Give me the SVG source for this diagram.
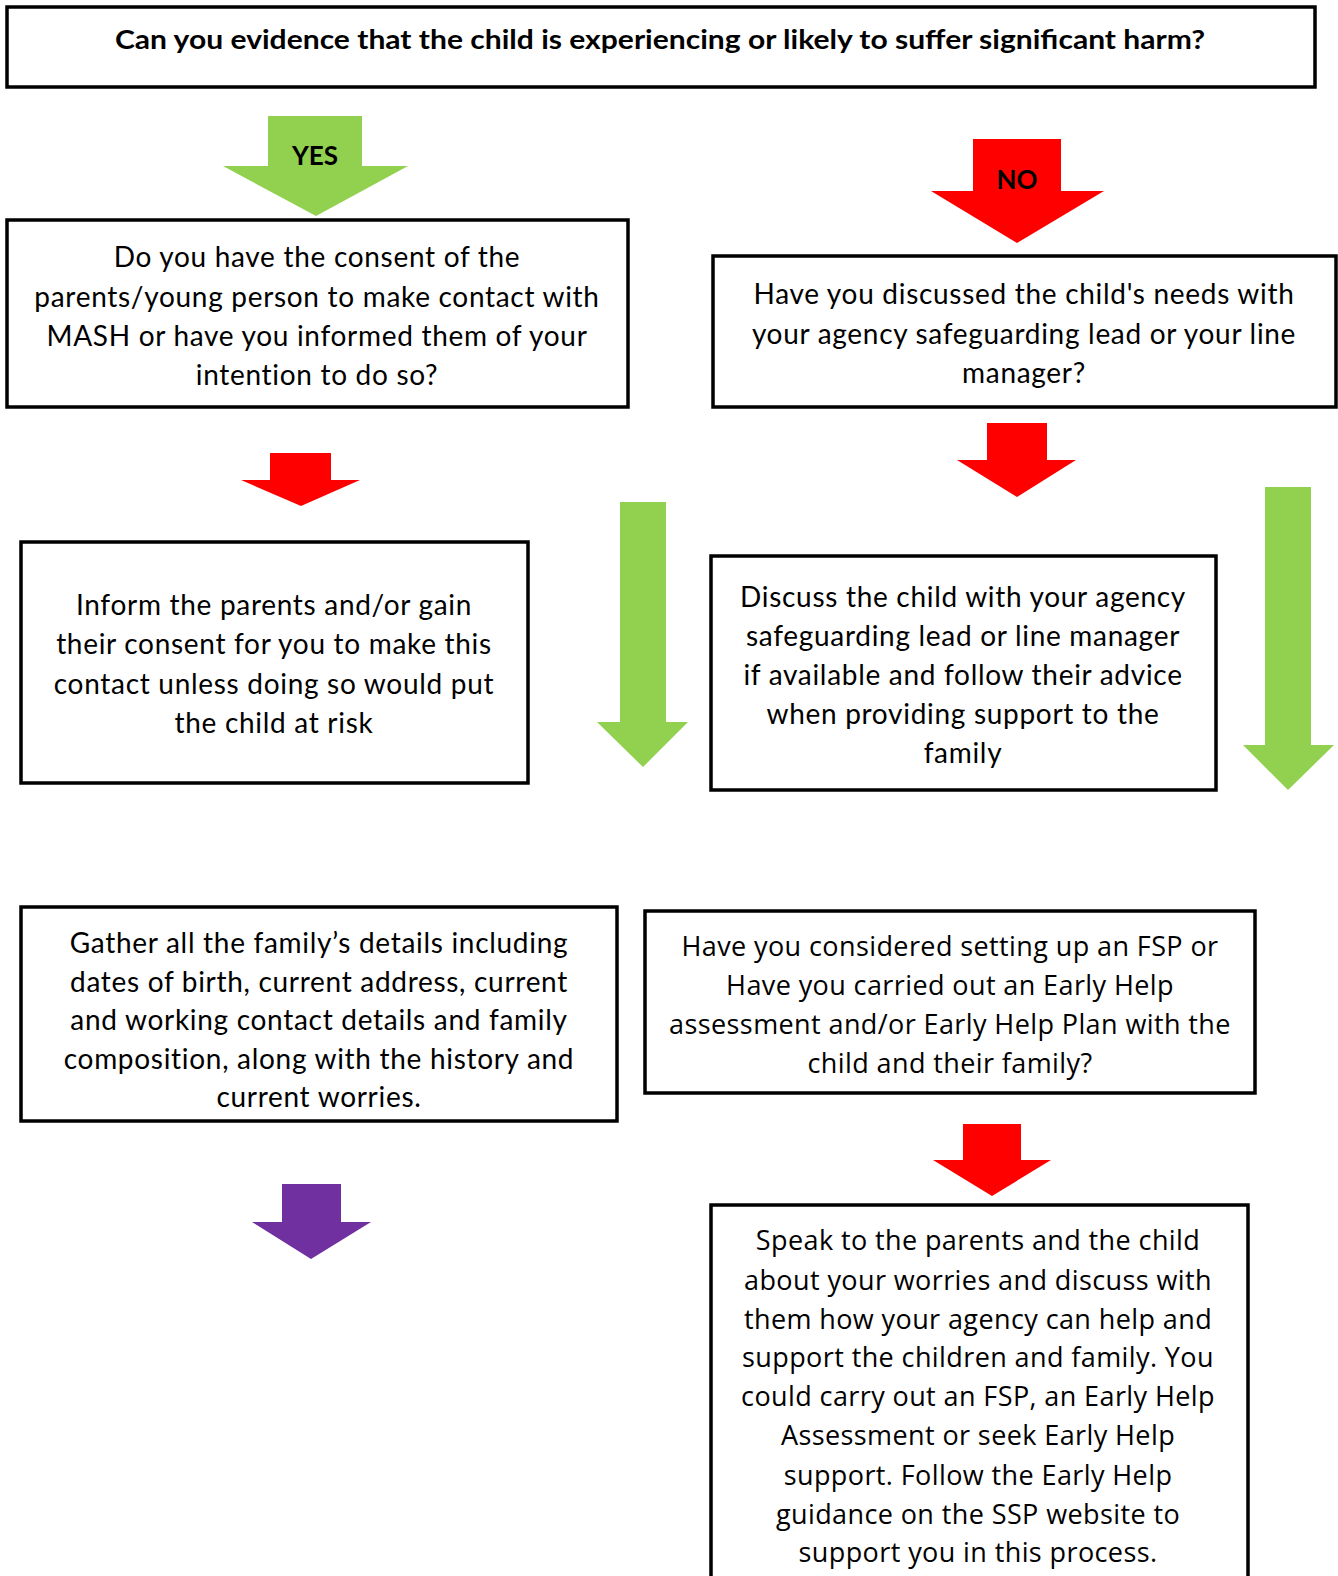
<svg xmlns="http://www.w3.org/2000/svg" width="1338" height="1576" viewBox="0 0 1338 1576">
<style>
.box{fill:#fff;stroke:#000;stroke-width:3.5}
.t{font-family:Lato,"Liberation Sans",sans-serif;font-size:28px;letter-spacing:0.7px;fill:#000;text-anchor:middle}
.t2{font-family:"Open Sans","Liberation Sans",sans-serif;font-size:27px;letter-spacing:0.4px;fill:#000;text-anchor:middle}
.b{font-family:Lato,"Liberation Sans",sans-serif;font-weight:bold;font-size:26px;fill:#000;text-anchor:middle}
.g{fill:#92D050}.r{fill:#FF0000}.p{fill:#7030A0}
</style>
<g id="connectors">
<polygon id="yes-arrow" class="g" points="268,116 362,116 362,166 408,166 316,216 223,166 268,166"/>
<text class="b" x="315" y="165">YES</text>
<polygon id="no-arrow" class="r" points="973,139 1061,139 1061,191 1104,191 1017,243 931,191 973,191"/>
<text class="b" x="1017" y="189">NO</text>
<polygon class="r" points="270,453 331,453 331,480 360,480 301,506 241,480 270,480"/>
<polygon class="g" points="620,502 666,502 666,722 688,722 643,767 597,722 620,722"/>
<polygon class="r" points="987,423 1047,423 1047,460 1076,460 1017,497 957,460 987,460"/>
<polygon class="g" points="1265,487 1311,487 1311,745 1334,745 1288,790 1243,745 1265,745"/>
<polygon class="p" points="282,1184 341,1184 341,1222 371,1222 311,1259 252,1222 282,1222"/>
<polygon class="r" points="963,1124 1021,1124 1021,1160 1051,1160 992,1196 933,1160 963,1160"/>
</g>
<g id="n-question">
<rect class="box" x="7" y="7" width="1308" height="80"/>
<text class="b" x="660" y="49" textLength="1090" lengthAdjust="spacingAndGlyphs">Can you evidence that the child is experiencing or likely to suffer significant harm?</text>
</g>
<g id="n-consent">
<rect class="box" x="7" y="220" width="621" height="187"/>
<text class="t" x="317" y="267">Do you have the consent of the</text>
<text class="t" x="317" y="307">parents/young person to make contact with</text>
<text class="t" x="317" y="346">MASH or have you informed them of your</text>
<text class="t" x="317" y="385">intention to do so?</text>
</g>
<g id="n-discussed">
<rect class="box" x="713" y="256" width="623" height="151"/>
<text class="t" x="1024" y="304">Have you discussed the child's needs with</text>
<text class="t" x="1024" y="344">your agency safeguarding lead or your line</text>
<text class="t" x="1024" y="383">manager?</text>
</g>
<g id="n-inform">
<rect class="box" x="21" y="542" width="507" height="241"/>
<text class="t" x="274" y="615">Inform the parents and/or gain</text>
<text class="t" x="274" y="654">their consent for you to make this</text>
<text class="t" x="274" y="694">contact unless doing so would put</text>
<text class="t" x="274" y="733">the child at risk</text>
</g>
<g id="n-discuss">
<rect class="box" x="711" y="556" width="505" height="234"/>
<text class="t" x="963" y="607">Discuss the child with your agency</text>
<text class="t" x="963" y="646">safeguarding lead or line manager</text>
<text class="t" x="963" y="685">if available and follow their advice</text>
<text class="t" x="963" y="724">when providing support to the</text>
<text class="t" x="963" y="763">family</text>
</g>
<g id="n-gather">
<rect class="box" x="21" y="907" width="596" height="214"/>
<text class="t" x="319" y="953">Gather all the family’s details including</text>
<text class="t" x="319" y="992">dates of birth, current address, current</text>
<text class="t" x="319" y="1030">and working contact details and family</text>
<text class="t" x="319" y="1069">composition, along with the history and</text>
<text class="t" x="319" y="1107">current worries.</text>
</g>
<g id="n-fsp">
<rect class="box" x="645" y="911" width="610" height="182"/>
<text class="t2" x="950" y="956">Have you considered setting up an FSP or</text>
<text class="t2" x="950" y="995">Have you carried out an Early Help</text>
<text class="t2" x="950" y="1034">assessment and/or Early Help Plan with the</text>
<text class="t2" x="950" y="1073">child and their family?</text>
</g>
<g id="n-speak">
<rect class="box" x="711" y="1205" width="537" height="390"/>
<text class="t2" x="978" y="1250">Speak to the parents and the child</text>
<text class="t2" x="978" y="1290">about your worries and discuss with</text>
<text class="t2" x="978" y="1329">them how your agency can help and</text>
<text class="t2" x="978" y="1367">support the children and family. You</text>
<text class="t2" x="978" y="1406">could carry out an FSP, an Early Help</text>
<text class="t2" x="978" y="1445">Assessment or seek Early Help</text>
<text class="t2" x="978" y="1485">support. Follow the Early Help</text>
<text class="t2" x="978" y="1524">guidance on the SSP website to</text>
<text class="t2" x="978" y="1562">support you in this process.</text>
</g>
</svg>
